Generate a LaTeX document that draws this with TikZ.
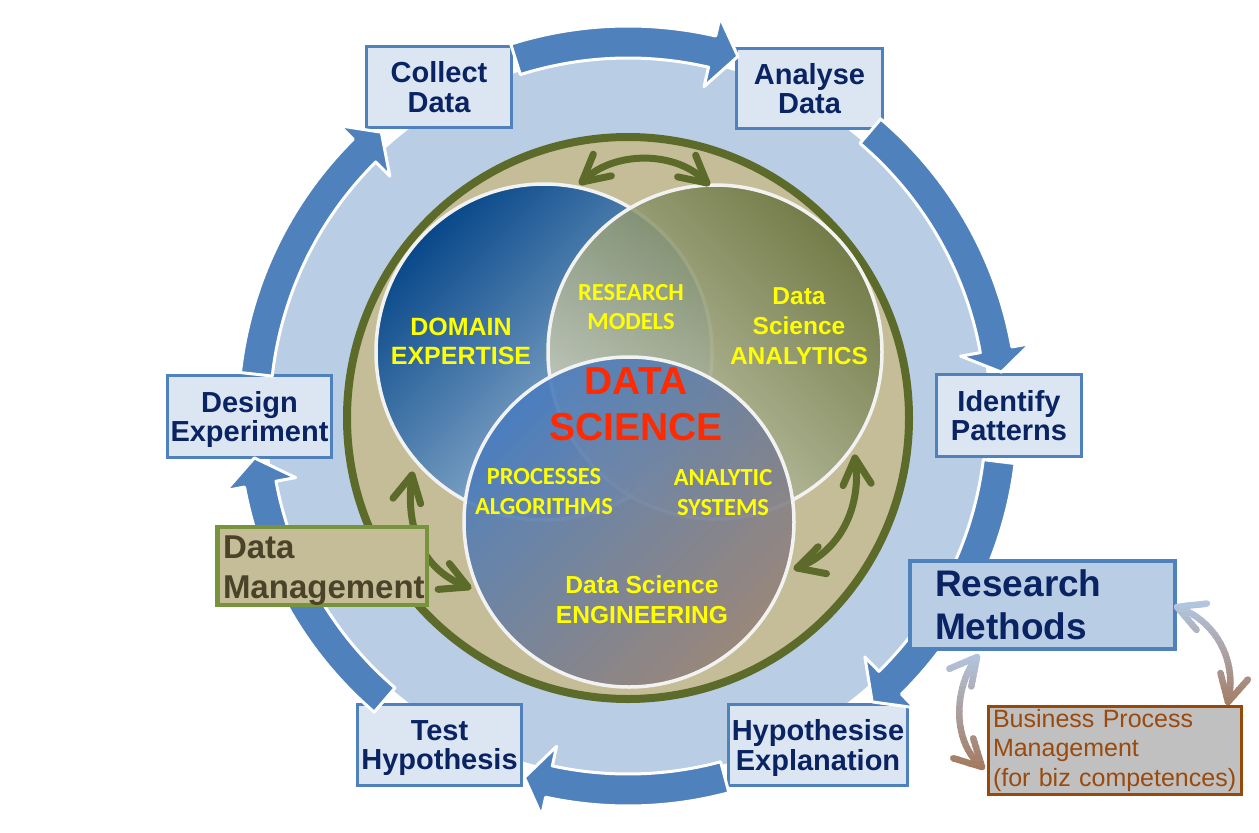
\documentclass[tikz,border=0pt]{standalone}
\usepackage{fontspec}
\setmainfont{Liberation Sans}
\newfontfamily\calibrifont{Carlito}
\usetikzlibrary{calc}
\definecolor{ringblue}{HTML}{4F81BD}
\definecolor{diskblue}{HTML}{B9CDE5}
\definecolor{boxfill}{HTML}{DCE6F2}
\definecolor{navytext}{HTML}{0A2463}
\definecolor{tanfill}{HTML}{C4BD97}
\definecolor{olivedk}{HTML}{5C6B2A}
\definecolor{dmborder}{HTML}{77933C}
\definecolor{dmtext}{HTML}{4A4329}
\definecolor{bpmborder}{HTML}{984807}
\definecolor{bpmtext}{HTML}{9A4A0E}
\definecolor{bpmfill}{HTML}{C0C0C0}
\definecolor{gblue}{HTML}{B3C9E6}
\definecolor{gbrown}{HTML}{A3765A}
\definecolor{vyellow}{HTML}{FFFF00}
\definecolor{dsred}{HTML}{FF2A00}
\definecolor{bluedk}{HTML}{08488A}
\definecolor{bluelt}{HTML}{B4CCE0}
\definecolor{olvdk}{HTML}{66723C}
\definecolor{olvlt}{HTML}{D2D5C2}
\definecolor{botblue}{HTML}{487CC0}
\definecolor{botmauve}{HTML}{958278}
\definecolor{vline}{HTML}{F2F2F2}

\newcommand\ringarrow[3]{%
  \path[ringarr]
    plot[domain=#1:#2, samples=40] ({628+390*cos(\x)},{416+390*sin(\x)})
    -- ({628+409*cos(#2)},{416+409*sin(#2)})
    -- ({628+376*cos(#3)},{416+376*sin(#3)})
    -- ({628+338*cos(#2)},{416+338*sin(#2)})
    -- plot[domain=#1:#2, samples=40] ({628+358*cos((#1)+(#2)-\x)},{416+358*sin((#1)+(#2)-\x)})
    -- cycle;}
\newcommand\barbs[3]{%
  \draw[#3] ($(#1)!30pt!28:(#2)$) -- (#1) -- ($(#1)!30pt!-28:(#2)$);}

\begin{document}
\begin{tikzpicture}[x=1pt,y=-1pt,
  rbox/.style={draw=ringblue, fill=boxfill, line width=3.5pt, inner sep=0pt, align=center,
    text depth=0pt, text=navytext, font=\bfseries\fontsize{29}{29.5}\selectfont},
  ringarr/.style={fill=ringblue, draw=white, line width=3pt, line join=round},
  vennline/.style={draw=vline, line width=3.5pt},
  vtext/.style={text=vyellow, align=center, inner sep=0pt},
  oarr/.style={draw=olivedk, line width=7pt, line cap=round, line join=round},
  garr/.style={line width=6.5pt, line cap=round, line join=round}]
\useasboundingbox (0,0) rectangle (1259,833);
\fill[white] (0,0) rectangle (1259,833);
\fill[diskblue] (628,416) circle[radius=361pt];

% cycle boxes
\node[rbox, minimum width=145pt, minimum height=81pt] (collect) at (439,87) {Collect\\Data};
\node[rbox, minimum width=146pt, minimum height=80pt] (analyse) at (809.5,88.5) {Analyse\\Data};
\node[rbox, minimum width=145pt, minimum height=82pt] (identify) at (1009,415.5) {Identify\\Patterns};
\node[rbox, minimum width=164pt, minimum height=82pt] (design) at (249.5,416.5) {Design\\Experiment};
\node[rbox, minimum width=164pt, minimum height=81pt] (test) at (439.5,745) {Test\\Hypothesis};
\node[rbox, minimum width=179pt, minimum height=81pt] (hypo) at (818,745) {Hypothesise\\Explanation};

% ring arrows
\ringarrow{-107.5}{-77}{-73}
\ringarrow{-49.6}{-10.2}{-6.7}
\ringarrow{7}{45.5}{49.5}
\ringarrow{75}{102.2}{106}
\ringarrow{130.6}{169.5}{173.6}
\ringarrow{186.4}{225.2}{229}

% olive ring
\path[fill=tanfill, draw=olivedk, line width=8pt] (628,418) circle[radius=281pt];

% Venn circles
\shade[top color=bluedk, bottom color=bluelt, shading angle=45] (544,352) circle[radius=168pt];
\draw[vennline] (544,352) circle[radius=168pt];
\shade[top color=olvdk, bottom color=olvlt, shading angle=-45, opacity=0.85] (715,352) circle[radius=167pt];
\draw[vennline] (715,352) circle[radius=167pt];
\shade[top color=botblue, bottom color=botmauve, shading angle=45, opacity=0.9] (629,522) circle[radius=165pt];
\draw[vennline] (629,522) circle[radius=165pt];

% Venn texts
\node[vtext, font=\bfseries\fontsize{25}{29}\selectfont] (domain) at (461,341.5) {DOMAIN\\EXPERTISE};
\node[vtext, font=\calibrifont\bfseries\fontsize{24.5}{29}\selectfont] (resmod) at (631,307.5) {RESEARCH\\MODELS};
\node[vtext, font=\bfseries\fontsize{24.5}{30}\selectfont] (dsa) at (799,326.5) {Data\\Science\\ANALYTICS};
\node[text=dsred, align=center, inner sep=0pt, font=\bfseries\fontsize{39}{46.5}\selectfont] (ds) at (636,404.5) {DATA\\SCIENCE};
\node[vtext, font=\calibrifont\bfseries\fontsize{24.5}{29.5}\selectfont] (procalg) at (544,491.5) {PROCESSES\\ALGORITHMS};
\node[vtext, font=\calibrifont\bfseries\fontsize{24.5}{29.5}\selectfont] (ansys) at (723,492.5) {ANALYTIC\\SYSTEMS};
\node[vtext, font=\bfseries\fontsize{24.6}{30}\selectfont] (dse) at (642,599.5) {Data Science\\ENGINEERING};

% olive double arrows
\coordinate (ta1) at (582,182);
\coordinate (ta2) at (707,183);
\draw[oarr] (ta1) .. controls (612,150) and (678,150) .. (ta2);
\barbs{ta1}{606,162}{oarr}
\barbs{ta2}{683,163}{oarr}
\coordinate (ra1) at (855,458);
\coordinate (ra2) at (797,568);
\draw[oarr] (ra1) .. controls (862,500) and (845,550) .. (ra2);
\barbs{ra1}{857,483}{oarr}
\barbs{ra2}{823,560}{oarr}
\coordinate (la1) at (412,475);
\coordinate (la2) at (468,587);
\draw[oarr] (la1) .. controls (405,525) and (420,570) .. (la2);
\barbs{la1}{407,500}{oarr}
\barbs{la2}{445,577}{oarr}

% side boxes
\node[draw=dmborder, fill=tanfill, line width=4.5pt, minimum width=209.5pt, minimum height=77.5pt,
  inner xsep=5.75pt, inner ysep=0pt, text width=198pt, align=left, text=dmtext,
  font=\bfseries\fontsize{33}{40}\selectfont] (dm) at (322,566) {\rule{0pt}{31pt}Data\\Management};
\node[draw=ringblue, fill=diskblue, line width=4pt, minimum width=265pt, minimum height=88pt,
  inner xsep=25pt, inner ysep=0pt, text width=215pt, align=left, text=navytext,
  font=\bfseries\fontsize{37}{43}\selectfont] (rm) at (1042.5,605) {Research\\Methods};
\node[draw=bpmborder, fill=bpmfill, line width=3pt, minimum width=253pt, minimum height=88pt,
  inner xsep=4.5pt, inner ysep=0pt, text width=244pt, align=left, text=bpmtext,
  font=\fontsize{25}{29.5}\selectfont] (bpm) at (1115,750.5) {Business Process\\Management\\(for biz competences)};

% gradient double arrows
\coordinate (gr1) at (1177,607);
\coordinate (gr2) at (1228,702);
\coordinate (gl1) at (977,657);
\coordinate (gl2) at (982,767);
\foreach \k in {0,...,23} {
  \pgfmathsetmacro\ya{597+5*\k}
  \pgfmathsetmacro\yb{\ya+5.5}
  \pgfmathtruncatemacro\pc{100-100*\k/23}
  \begin{scope}
    \clip (1140,\ya) rectangle (1259,\yb);
    \draw[garr, draw=gblue!\pc!gbrown] (gr1) .. controls (1215,620) and (1238,660) .. (gr2);
    \barbs{gr1}{1200,616}{garr, draw=gblue!\pc!gbrown}
    \barbs{gr2}{1234,677}{garr, draw=gblue!\pc!gbrown}
  \end{scope}
}
\foreach \k in {0,...,25} {
  \pgfmathsetmacro\ya{646+5*\k}
  \pgfmathsetmacro\yb{\ya+5.5}
  \pgfmathtruncatemacro\pc{100-100*\k/25}
  \begin{scope}
    \clip (930,\ya) rectangle (1000,\yb);
    \draw[garr, draw=gblue!\pc!gbrown] (gl1) .. controls (955,685) and (950,740) .. (gl2);
    \barbs{gl1}{960,678}{garr, draw=gblue!\pc!gbrown}
    \barbs{gl2}{962,747}{garr, draw=gblue!\pc!gbrown}
  \end{scope}
}
\end{tikzpicture}
\end{document}
